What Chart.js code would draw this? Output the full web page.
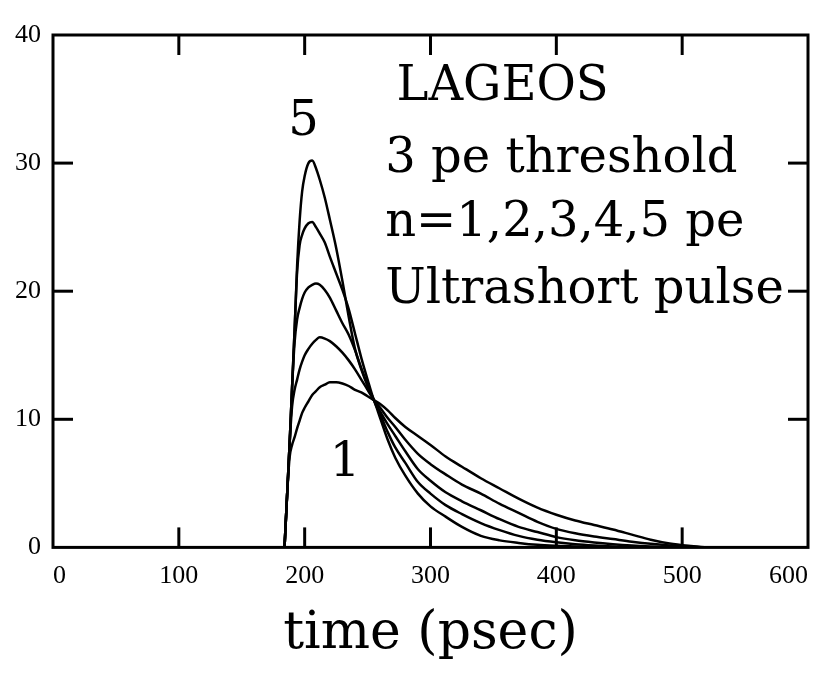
<!DOCTYPE html>
<html><head><meta charset="utf-8">
<script src="https://cdn.jsdelivr.net/npm/chart.js@4.4.1/dist/chart.umd.min.js"></script>
<style>html,body{margin:0;padding:0;background:#fff}#wrap{width:816px;height:677px;position:relative}</style>
</head><body><div id="wrap"><canvas id="c"></canvas></div>
<script>
// time grid (psec)
const timePs = [184,186,188,190,192,194,196,198,200,203,206,209,212,216,220,225,230,235,240,245,250,255,260,266,272,280,290,300,312,325,340,355,370,385,400,415,430,445,460,475,490,505,520];
// n = 1..5 pe curves
const n1 = [0,4,7,8,8.6,9.3,9.9,10.5,10.9,11.4,11.9,12.2,12.5,12.7,12.9,12.9,12.8,12.6,12.3,12.1,11.8,11.5,11.2,10.7,10.1,9.4,8.7,8.0,7.1,6.3,5.4,4.6,3.8,3.1,2.55,2.1,1.75,1.4,1.0,0.6,0.3,0.12,0];
const n2 = [0,4,8,11,12.3,13.1,13.9,14.5,15.0,15.5,15.9,16.2,16.4,16.3,16.1,15.7,15.2,14.6,13.9,13.1,12.3,11.5,10.9,10.1,9.4,8.4,7.3,6.5,5.7,4.9,4.2,3.4,2.7,2.0,1.45,1.1,0.85,0.65,0.45,0.28,0.15,0.05,0];
const n3 = [0,4,8,12.5,16,17.8,18.7,19.4,19.9,20.3,20.5,20.6,20.5,20.1,19.5,18.5,17.5,16.6,15.4,14.0,12.7,11.5,10.6,9.6,8.7,7.5,6.1,5.2,4.3,3.6,2.9,2.2,1.6,1.2,0.8,0.55,0.38,0.25,0.15,0.08,0.03,0,0];
const n4 = [0,4,8,12.5,17,21.5,23.6,24.4,24.9,25.3,25.4,25.0,24.5,23.8,22.7,21.4,20.1,18.6,16.7,14.8,13.1,11.5,10.4,9.0,7.8,6.6,5.1,4.2,3.3,2.6,1.9,1.35,0.9,0.6,0.4,0.25,0.15,0.08,0.04,0.02,0,0,0];
const n5 = [0,4,8,12.5,17,22,25.5,27.8,29.0,30.0,30.2,29.6,28.7,27.3,25.6,23.4,20.8,18.0,15.5,13.9,12.6,11.5,10.1,8.4,7.0,5.6,4.2,3.2,2.4,1.6,0.9,0.55,0.35,0.2,0.12,0.07,0.04,0.02,0,0,0,0,0];
const seriesValues = [n1,n2,n3,n4,n5];
const seriesNames = ["n=1","n=2","n=3","n=4","n=5"];
// axis ranges / ticks
const xRange = [0,600], xStep = 100;
const yRange = [0,40], yStep = 10;
const xTitle = "time (psec)";
// annotation texts in data coordinates (time, value)
const noteLines = ["LAGEOS","3 pe threshold","n=1,2,3,4,5 pe","Ultrashort pulse"];
const noteX = [273,264,264,264];
const noteY = [34.9,29.3,24.3,19.1];
const curveTags = ["5","1"];
const curveTagX = [199,232];
const curveTagY = [32.2,5.6];

const framePlugin = {
  id:'frame',
  afterDatasetsDraw(chart){
    const {ctx, chartArea:a, scales:{x,y}} = chart;
    ctx.save();
    ctx.strokeStyle='#000'; ctx.lineWidth=3;
    ctx.strokeRect(a.left,a.top,a.right-a.left,a.bottom-a.top);
    const L=20;
    const seg=(x1,y1,x2,y2)=>{ctx.beginPath();ctx.moveTo(x1,y1);ctx.lineTo(x2,y2);ctx.stroke();};
    x.ticks.forEach(t=>{ if(t.value<=x.min||t.value>=x.max) return; const p=x.getPixelForValue(t.value); seg(p,a.bottom,p,a.bottom-L); seg(p,a.top,p,a.top+L); });
    y.ticks.forEach(t=>{ if(t.value<=y.min||t.value>=y.max) return; const p=y.getPixelForValue(t.value); seg(a.left,p,a.left+L,p); seg(a.right,p,a.right-L,p); });
    ctx.fillStyle='#000'; ctx.textAlign='left'; ctx.textBaseline='alphabetic';
    ctx.font='48px "DejaVu Serif"';
    noteLines.forEach((s,i)=>ctx.fillText(s, x.getPixelForValue(noteX[i]), y.getPixelForValue(noteY[i])));
    ctx.textAlign='center';
    curveTags.forEach((s,i)=>ctx.fillText(s, x.getPixelForValue(curveTagX[i]), y.getPixelForValue(curveTagY[i])));
    ctx.restore();
  }
};

new Chart(document.getElementById('c'), {
  type:'line',
  data:{
    datasets: seriesValues.map((vals,k)=>({
      label: seriesNames[k],
      data: timePs.map((t,i)=>({x:t,y:vals[i]})),
      borderColor:'#000', borderWidth:2.5, pointRadius:0, fill:false,
      cubicInterpolationMode:'monotone'
    }))
  },
  options:{
    responsive:true, maintainAspectRatio:false, animation:false, devicePixelRatio:1,
    layout:{padding:{left:0,right:8,top:35,bottom:11}},
    plugins:{legend:{display:false}, tooltip:{enabled:false}},
    scales:{
      x:{type:'linear', min:xRange[0], max:xRange[1],
         ticks:{stepSize:xStep, color:'#000', font:{family:'"Liberation Serif"', size:26}, padding:5, align:'inner', maxRotation:0},
         grid:{display:false}, border:{display:false},
         title:{display:true, text:xTitle, color:'#000', font:{family:'"DejaVu Serif"', size:52}, padding:{top:7,bottom:0}},
         afterFit(s){ s.paddingRight = 0; s.paddingLeft = 0; }
      },
      y:{min:yRange[0], max:yRange[1],
         ticks:{stepSize:yStep, color:'#000', font:{family:'"Liberation Serif"', size:26}, padding:4},
         grid:{display:false}, border:{display:false},
         afterFit(s){ s.width = 53; }
      }
    }
  },
  plugins:[framePlugin]
});
</script>
</body></html>
